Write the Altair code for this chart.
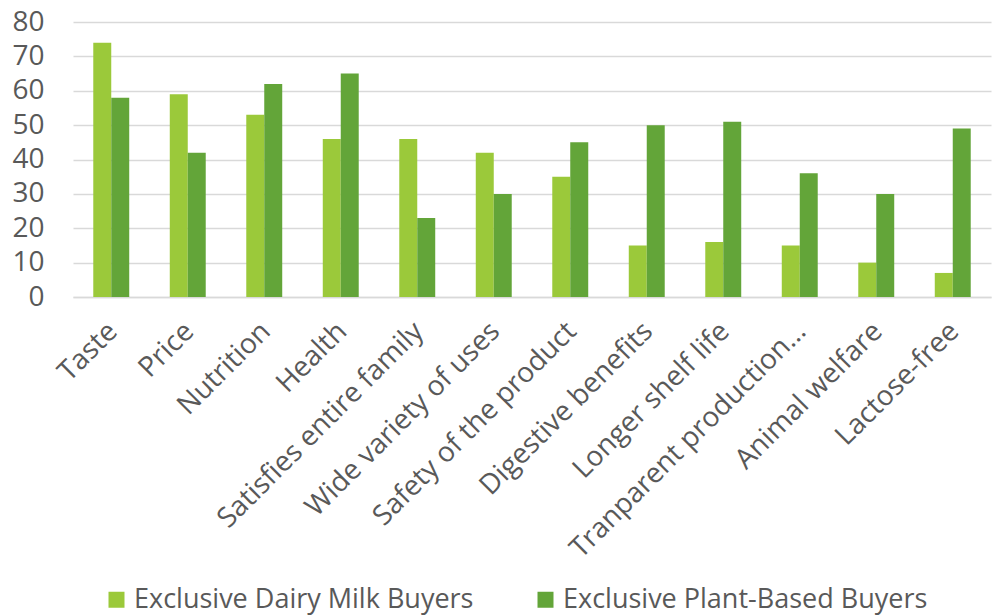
import altair as alt
import pandas as pd

categories = ["Taste", "Price", "Nutrition", "Health", "Satisfies entire family",
              "Wide variety of uses", "Safety of the product", "Digestive benefits",
              "Longer shelf life", "Tranparent production…", "Animal welfare", "Lactose-free"]
dairy = [74, 59, 53, 46, 46, 42, 35, 15, 16, 15, 10, 7]
plant = [58, 42, 62, 65, 23, 30, 45, 50, 51, 36, 30, 49]
series = ["Exclusive Dairy Milk Buyers", "Exclusive Plant-Based Buyers"]
colors = ["#9BC93A", "#63A539"]

rows = []
for c, d, p in zip(categories, dairy, plant):
    rows.append({"category": c, "series": series[0], "value": d})
    rows.append({"category": c, "series": series[1], "value": p})
df = pd.DataFrame(rows)

FONT = "Open Sans"
chart = alt.Chart(df).mark_bar().encode(
    x=alt.X("category:N", sort=categories, title=None,
            scale=alt.Scale(paddingInner=0.53, paddingOuter=0.265),
            axis=alt.Axis(labelAngle=-45, labelFontSize=28, labelColor="#595959",
                          labelFont=FONT, ticks=False, domain=True, domainColor="#d9d9d9",
                          domainWidth=1.5, labelPadding=20, labelOffset=-8, labelLimit=500)),
    xOffset=alt.XOffset("series:N", sort=series),
    y=alt.Y("value:Q", title=None,
            scale=alt.Scale(domain=[0, 80]),
            axis=alt.Axis(values=list(range(0, 81, 10)), labelFontSize=28, labelColor="#595959",
                          labelFont=FONT, ticks=False, domain=False, gridColor="#d9d9d9",
                          gridWidth=1.5, labelPadding=29)),
    color=alt.Color("series:N", sort=series,
                    scale=alt.Scale(domain=series, range=colors),
                    legend=alt.Legend(title=None, orient="none", direction="horizontal",
                                      legendX=30, legendY=564, symbolType="square",
                                      symbolSize=256, symbolStrokeWidth=0,
                                      labelFontSize=27, labelFont=FONT, labelColor="#595959",
                                      columnPadding=58, labelLimit=600, symbolOffset=0)),
).properties(
    width=918, height=275,
    autosize=alt.AutoSizeParams(type="none"),
    padding={"left": 73, "top": 22, "right": 1, "bottom": 319},
).configure_view(stroke=None)

chart.save("out.html", embed_options={"renderer": "svg", "actions": False})
